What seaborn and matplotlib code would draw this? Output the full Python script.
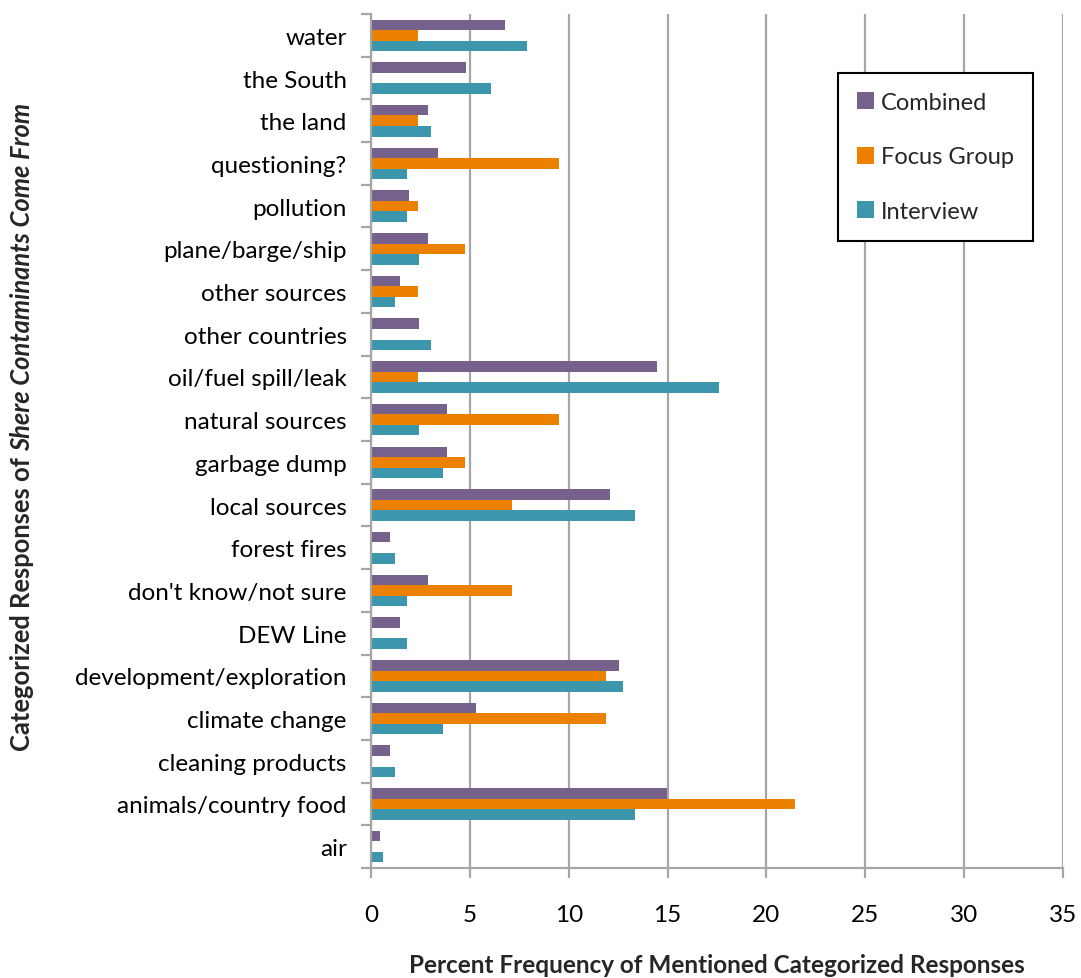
import matplotlib
matplotlib.use("Agg")
import matplotlib.pyplot as plt
from matplotlib.patches import Patch
from matplotlib.ticker import FixedLocator
import numpy as np
import pandas as pd
import seaborn as sns

categories = [
    "water", "the South", "the land", "questioning?", "pollution",
    "plane/barge/ship", "other sources", "other countries", "oil/fuel spill/leak",
    "natural sources", "garbage dump", "local sources", "forest fires",
    "don't know/not sure", "DEW Line", "development/exploration", "climate change",
    "cleaning products", "animals/country food", "air",
]
combined = [6.76, 4.83, 2.90, 3.38, 1.93, 2.90, 1.45, 2.42, 14.49, 3.86,
            3.86, 12.08, 0.97, 2.90, 1.45, 12.56, 5.31, 0.97, 14.98, 0.48]
focus_group = [2.38, 0, 2.38, 9.52, 2.38, 4.76, 2.38, 0, 2.38, 9.52,
               4.76, 7.14, 0, 7.14, 0, 11.90, 11.90, 0, 21.43, 0]
interview = [7.88, 6.06, 3.03, 1.82, 1.82, 2.42, 1.21, 3.03, 17.58, 2.42,
             3.64, 13.33, 1.21, 1.82, 1.82, 12.73, 3.64, 1.21, 13.33, 0.61]
series_names = ["Combined", "Focus Group", "Interview"]
series_colors = ["#76608c", "#ec8000", "#3c96ac"]
x_ticks = [0, 5, 10, 15, 20, 25, 30, 35]

sns.set_theme(style="white")
plt.rcParams["font.family"] = ["Lato", "DejaVu Sans"]

rows = []
for name, vals in zip(series_names, [combined, focus_group, interview]):
    for cat, v in zip(categories, vals):
        rows.append({"category": cat, "series": name, "value": v})
df = pd.DataFrame(rows)

fig = plt.figure(figsize=(10.81, 9.79), dpi=100)
ax = fig.add_axes([371 / 1081, 110 / 979, 692 / 1081, 854 / 979])

sns.barplot(data=df, y="category", x="value", hue="series",
            order=categories, hue_order=series_names,
            palette=series_colors, saturation=1, orient="h", width=0.74,
            linewidth=0, errorbar=None, legend=False, ax=ax)

grid_c = "#a6a6a6"
ax.set_xlim(0, 35)
ax.set_ylim(len(categories) - 0.5, -0.5)
ax.set_xticks(x_ticks)
ax.set_xticklabels([str(t) for t in x_ticks])
ax.grid(axis="x", color=grid_c, linewidth=1.6)
ax.grid(axis="y", visible=False)
ax.set_axisbelow(True)

for s in ["top", "right"]:
    ax.spines[s].set_visible(False)
for s in ["left", "bottom"]:
    ax.spines[s].set_color(grid_c)
    ax.spines[s].set_linewidth(1.6)

# category separators as outward ticks on the y axis
ax.yaxis.set_minor_locator(FixedLocator(np.arange(-0.5, len(categories), 1.0)))
ax.tick_params(axis="y", which="major", length=0, pad=17.5, labelsize=17.5,
               labelcolor="black")
ax.tick_params(axis="y", which="minor", left=True, length=7, width=1.6,
               color=grid_c, direction="out")
ax.tick_params(axis="x", which="major", bottom=True, length=7, width=1.6,
               color=grid_c, direction="out", pad=19, labelsize=17.5,
               labelcolor="black")

ax.set_xlabel("Percent Frequency of Mentioned Categorized Responses",
              fontsize=17.5, fontweight="bold", labelpad=20)
ax.set_ylabel("")

# y-axis title: upright bold part followed by a bold italic part
fig.canvas.draw()
renderer = fig.canvas.get_renderer()
t1 = fig.text(22 / 1081, 1 - 751 / 979, "Categorized Responses of ",
              rotation=90, ha="center", va="bottom", fontsize=18.4,
              fontweight="bold")
ext = t1.get_window_extent(renderer)
t2 = fig.text(22 / 1081, ext.y1 / fig.bbox.height, "Shere Contaminants Come From",
              rotation=90, ha="center", va="bottom", fontsize=18.4,
              fontweight="bold", fontstyle="italic")

handles = [Patch(facecolor=c, edgecolor="none") for c in series_colors]
leg = ax.legend(handles, series_names, loc="upper left",
                bbox_to_anchor=(0.675, 0.931), frameon=True, fancybox=False,
                framealpha=1, edgecolor="black", fontsize=17,
                handlelength=0.72, handleheight=0.72, handletextpad=0.3,
                labelspacing=1.42, borderpad=0.8, borderaxespad=0)
leg.get_frame().set_linewidth(1.5)

fig.savefig("out.png", dpi=100)
